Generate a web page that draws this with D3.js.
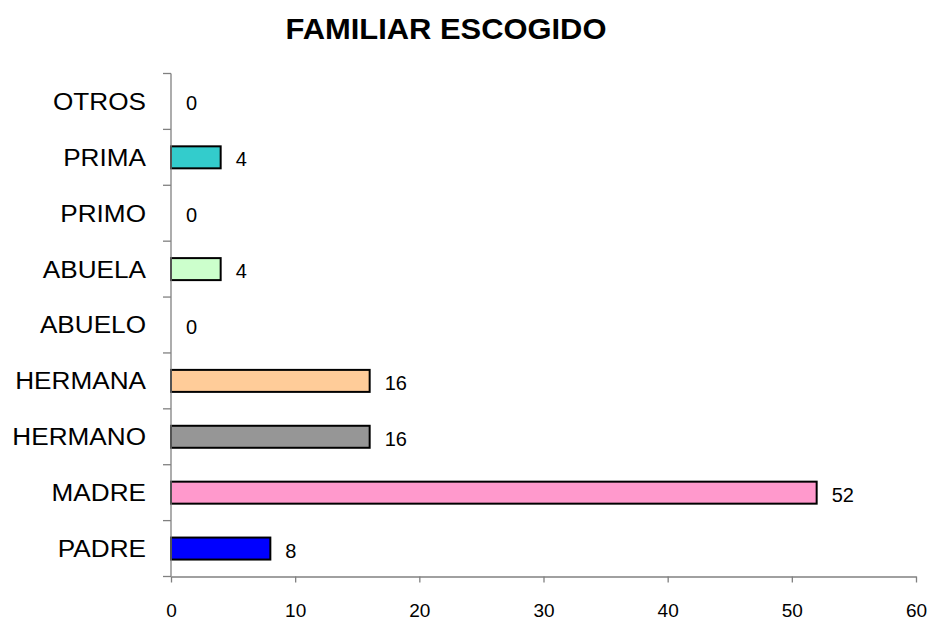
<!DOCTYPE html>
<html>
<head>
<meta charset="utf-8">
<script src="https://cdn.jsdelivr.net/npm/d3@7"></script>
<style>
  html, body { margin: 0; padding: 0; background: #fff; }
  svg { display: block; font-family: "Liberation Sans", Arial, sans-serif; }
</style>
</head>
<body>
<svg id="chart" width="932" height="621"></svg>
<script>
const title = "FAMILIAR ESCOGIDO";
const categories = ["PADRE", "MADRE", "HERMANO", "HERMANA", "ABUELO", "ABUELA", "PRIMO", "PRIMA", "OTROS"];
const values = [8, 52, 16, 16, 0, 4, 0, 4, 0];
const colors = ["#0000FF", "#FF99CC", "#969696", "#FFCC99", "#FFFFFF", "#CCFFCC", "#FFFFFF", "#33CCCC", "#FFFFFF"];
const xTicks = [0, 10, 20, 30, 40, 50, 60];

const data = categories.map((c, i) => ({ cat: c, val: values[i], color: colors[i] }));

const svg = d3.select("#chart");
const plotLeft = 171, plotRight = 916, plotTop = 73.5, plotBottom = 576.5;

const x = d3.scaleLinear().domain([0, 60]).range([plotLeft, plotRight]);
const yb = d3.scaleBand().domain(categories.slice().reverse()).range([plotTop, plotBottom]);

// title
svg.append("text")
  .attr("transform", "translate(446,38.5) scale(1.03,1)")
  .attr("text-anchor", "middle")
  .attr("font-weight", "bold")
  .attr("font-size", 30)
  .attr("fill", "#000")
  .text(title);

// bars
svg.append("g").selectAll("rect")
  .data(data.filter(d => d.val > 0))
  .join("rect")
  .attr("x", x(0))
  .attr("y", d => yb(d.cat) + yb.bandwidth() / 2 - 11)
  .attr("width", d => x(d.val) - x(0))
  .attr("height", 22)
  .attr("fill", d => d.color)
  .attr("stroke", "#000")
  .attr("stroke-width", 2);

// value labels
svg.append("g").selectAll("text")
  .data(data)
  .join("text")
  .attr("x", d => x(d.val) + 15)
  .attr("y", d => yb(d.cat) + yb.bandwidth() / 2 + 2)
  .attr("dy", "0.35em")
  .attr("font-size", 20)
  .attr("fill", "#000")
  .text(d => d.val);

// x axis
const xAxis = d3.axisBottom(x).tickValues(xTicks).tickSize(6).tickSizeOuter(0).tickFormat(d3.format("d"));
const gx = svg.append("g").attr("transform", `translate(0,${plotBottom})`).call(xAxis);
gx.attr("font-size", null).attr("font-family", null);
gx.select(".domain").attr("stroke", "#808080").attr("stroke-width", 1.3);
gx.selectAll(".tick line").attr("stroke", "#808080").attr("stroke-width", 1.3);
gx.selectAll(".tick text").attr("font-size", 19)
  .attr("fill", "#000").attr("y", 616.8 - plotBottom).attr("dy", 0);

// y axis: domain line + ticks at band boundaries
const boundaries = categories.map(c => yb(c)).concat([plotBottom]);
svg.append("line")
  .attr("x1", plotLeft).attr("x2", plotLeft)
  .attr("y1", plotTop).attr("y2", plotBottom)
  .attr("stroke", "#808080").attr("stroke-width", 1.3);
svg.append("g").selectAll("line")
  .data(boundaries)
  .join("line")
  .attr("x1", plotLeft - 8).attr("x2", plotLeft)
  .attr("y1", d => d).attr("y2", d => d)
  .attr("stroke", "#808080").attr("stroke-width", 1.3);

// category labels
svg.append("g").selectAll("text")
  .data(categories)
  .join("text")
  .attr("transform", d => `translate(146,${yb(d) + yb.bandwidth() / 2}) scale(1.09,1)`)
  .attr("dy", "0.35em")
  .attr("text-anchor", "end")
  .attr("font-size", 24)
  .attr("fill", "#000")
  .text(d => d);
</script>
</body>
</html>
